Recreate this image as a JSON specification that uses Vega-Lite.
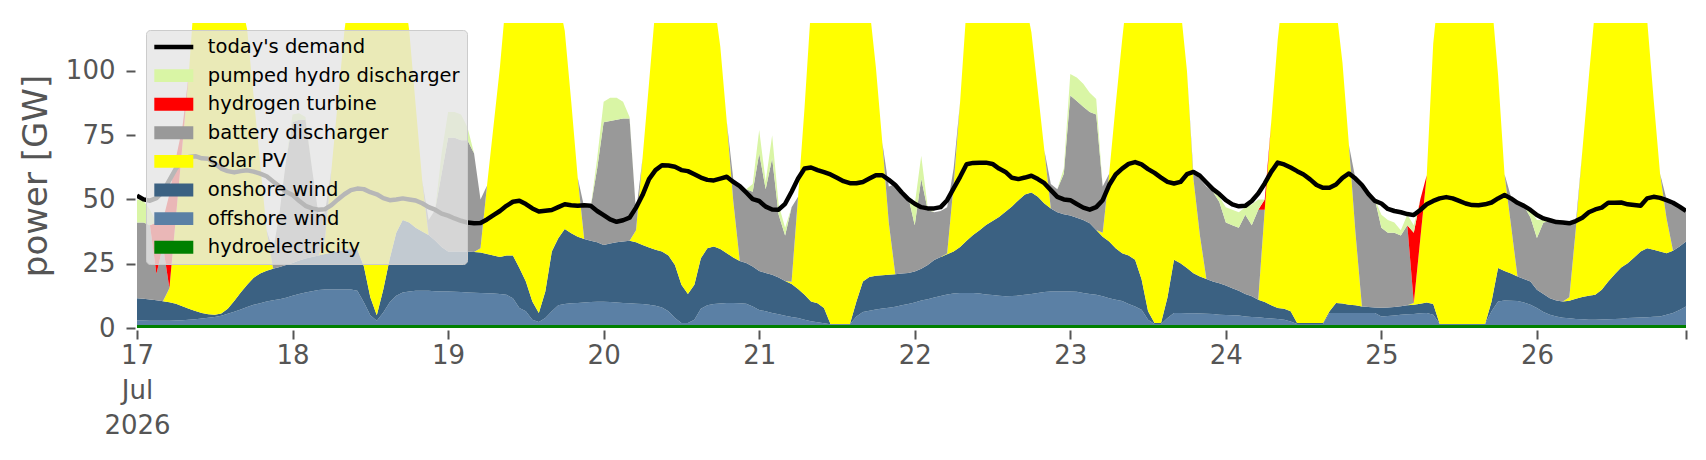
{
"$schema":"https://vega.github.io/schema/vega-lite/v6.json",
"width":1549,"height":305,
"autosize":{"type":"none"},
"padding":{"left":137,"top":23,"right":20,"bottom":132},
"background":"#ffffff",
"config":{"view":{"stroke":null},"font":"DejaVu Sans"},
"data":{"values":[
{"t":"2026-07-17T00:00","s1":1.2,"s2":1.7,"s3":8.7,"s4":0,"s5":29.4,"s6":0,"s7":9,"d":51.5},
{"t":"2026-07-17T01:00","s1":1.2,"s2":1.7,"s3":8.5,"s4":0,"s5":29.6,"s6":0,"s7":8.5,"d":50},
{"t":"2026-07-17T02:00","s1":1.2,"s2":1.6,"s3":8.3,"s4":0,"s5":28.9,"s6":0,"s7":6,"d":49.5},
{"t":"2026-07-17T03:00","s1":1.2,"s2":1.6,"s3":8,"s4":0,"s5":10.2,"s6":20,"s7":0,"d":50.5},
{"t":"2026-07-17T04:00","s1":1.2,"s2":1.6,"s3":7.6,"s4":0,"s5":21.6,"s6":10,"s7":0,"d":53},
{"t":"2026-07-17T05:00","s1":1.2,"s2":1.6,"s3":7.2,"s4":5.5,"s5":0,"s6":36.5,"s7":0,"d":57.5},
{"t":"2026-07-17T06:00","s1":1.2,"s2":1.7,"s3":6.5,"s4":33.6,"s5":0,"s6":23,"s7":0,"d":62},
{"t":"2026-07-17T07:00","s1":1.2,"s2":1.8,"s3":5.5,"s4":62.5,"s5":0,"s6":7,"s7":0,"d":65},
{"t":"2026-07-17T08:00","s1":1.2,"s2":2,"s3":4.3,"s4":91.5,"s5":0,"s6":0,"s7":0,"d":66.5},
{"t":"2026-07-17T09:00","s1":1.2,"s2":2.2,"s3":3.2,"s4":128.4,"s5":0,"s6":0,"s7":0,"d":66.8},
{"t":"2026-07-17T10:00","s1":1.2,"s2":2.5,"s3":2.1,"s4":144.2,"s5":0,"s6":0,"s7":0,"d":66},
{"t":"2026-07-17T11:00","s1":1.2,"s2":2.8,"s3":1.3,"s4":152.7,"s5":0,"s6":0,"s7":0,"d":65.8},
{"t":"2026-07-17T12:00","s1":1.2,"s2":3.1,"s3":0.9,"s4":154.8,"s5":0,"s6":0,"s7":0,"d":64},
{"t":"2026-07-17T13:00","s1":1.2,"s2":3.6,"s3":0.8,"s4":152.4,"s5":0,"s6":0,"s7":0,"d":62},
{"t":"2026-07-17T14:00","s1":1.2,"s2":4.3,"s3":2,"s4":142.5,"s5":0,"s6":0,"s7":0,"d":61},
{"t":"2026-07-17T15:00","s1":1.2,"s2":5.1,"s3":4.2,"s4":129.5,"s5":0,"s6":0,"s7":0,"d":60.5},
{"t":"2026-07-17T16:00","s1":1.2,"s2":6,"s3":6.6,"s4":114.2,"s5":0,"s6":0,"s7":0,"d":61},
{"t":"2026-07-17T17:00","s1":1.2,"s2":7,"s3":8.6,"s4":99.2,"s5":0,"s6":0,"s7":0,"d":61.3},
{"t":"2026-07-17T18:00","s1":1.2,"s2":7.8,"s3":10.5,"s4":70.5,"s5":0,"s6":0,"s7":0,"d":60.8},
{"t":"2026-07-17T19:00","s1":1.2,"s2":8.4,"s3":11.6,"s4":42.8,"s5":0,"s6":0,"s7":0,"d":60},
{"t":"2026-07-17T20:00","s1":1.2,"s2":9.1,"s3":12,"s4":15.7,"s5":0,"s6":0,"s7":0,"d":59},
{"t":"2026-07-17T21:00","s1":1.2,"s2":9.6,"s3":12.2,"s4":0,"s5":7,"s6":0,"s7":0,"d":57},
{"t":"2026-07-17T22:00","s1":1.2,"s2":10,"s3":12.5,"s4":0,"s5":21.3,"s6":0,"s7":0,"d":55},
{"t":"2026-07-17T23:00","s1":1.2,"s2":10.6,"s3":12.7,"s4":0,"s5":40.5,"s6":0,"s7":0,"d":53},
{"t":"2026-07-18T00:00","s1":1.2,"s2":11.3,"s3":12.8,"s4":0,"s5":54.7,"s6":0,"s7":3,"d":51.7},
{"t":"2026-07-18T01:00","s1":1.2,"s2":12,"s3":13,"s4":0,"s5":54.8,"s6":0,"s7":2.5,"d":49.5},
{"t":"2026-07-18T02:00","s1":1.2,"s2":12.6,"s3":13.2,"s4":0,"s5":54,"s6":0,"s7":1,"d":47.5},
{"t":"2026-07-18T03:00","s1":1.2,"s2":13.1,"s3":13.3,"s4":0,"s5":34.4,"s6":0,"s7":0,"d":46.5},
{"t":"2026-07-18T04:00","s1":1.2,"s2":13.6,"s3":13.4,"s4":0,"s5":15.8,"s6":0,"s7":0,"d":46},
{"t":"2026-07-18T05:00","s1":1.2,"s2":13.8,"s3":13.8,"s4":5.7,"s5":10.5,"s6":0,"s7":0,"d":46.2},
{"t":"2026-07-18T06:00","s1":1.2,"s2":13.8,"s3":14.3,"s4":32.2,"s5":0,"s6":0,"s7":0,"d":47.8},
{"t":"2026-07-18T07:00","s1":1.2,"s2":13.8,"s3":14.8,"s4":58.7,"s5":0,"s6":0,"s7":0,"d":50},
{"t":"2026-07-18T08:00","s1":1.2,"s2":13.8,"s3":15.3,"s4":85.2,"s5":0,"s6":0,"s7":0,"d":52},
{"t":"2026-07-18T09:00","s1":1.2,"s2":13.8,"s3":15.8,"s4":104.2,"s5":0,"s6":0,"s7":0,"d":53.6},
{"t":"2026-07-18T10:00","s1":1.2,"s2":13.3,"s3":16,"s4":117.5,"s5":0,"s6":0,"s7":0,"d":54.2},
{"t":"2026-07-18T11:00","s1":1.2,"s2":8.8,"s3":14,"s4":131,"s5":0,"s6":0,"s7":0,"d":54},
{"t":"2026-07-18T12:00","s1":1.2,"s2":3.8,"s3":7,"s4":146,"s5":0,"s6":0,"s7":0,"d":52.8},
{"t":"2026-07-18T13:00","s1":1.2,"s2":1.6,"s3":2.2,"s4":153,"s5":0,"s6":0,"s7":0,"d":52},
{"t":"2026-07-18T14:00","s1":1.2,"s2":4.8,"s3":9,"s4":140,"s5":0,"s6":0,"s7":0,"d":50.5},
{"t":"2026-07-18T15:00","s1":1.2,"s2":8.8,"s3":17,"s4":123,"s5":0,"s6":0,"s7":0,"d":49.7},
{"t":"2026-07-18T16:00","s1":1.2,"s2":11.3,"s3":24.5,"s4":108,"s5":0,"s6":0,"s7":0,"d":50},
{"t":"2026-07-18T17:00","s1":1.2,"s2":12.6,"s3":28.2,"s4":93,"s5":0,"s6":0,"s7":0,"d":50.4},
{"t":"2026-07-18T18:00","s1":1.2,"s2":13,"s3":26.8,"s4":74.7,"s5":0,"s6":0,"s7":0,"d":50},
{"t":"2026-07-18T19:00","s1":1.2,"s2":13.3,"s3":24.5,"s4":47.5,"s5":0,"s6":0,"s7":0,"d":49.6},
{"t":"2026-07-18T20:00","s1":1.2,"s2":13.3,"s3":23,"s4":20,"s5":0,"s6":0,"s7":0,"d":48.5},
{"t":"2026-07-18T21:00","s1":1.2,"s2":13.3,"s3":21.7,"s4":0,"s5":5.8,"s6":0,"s7":0,"d":47},
{"t":"2026-07-18T22:00","s1":1.2,"s2":13.1,"s3":19.7,"s4":0,"s5":12,"s6":0,"s7":0,"d":46},
{"t":"2026-07-18T23:00","s1":1.2,"s2":13,"s3":17.3,"s4":0,"s5":28.5,"s6":0,"s7":8,"d":44.5},
{"t":"2026-07-19T00:00","s1":1.2,"s2":13,"s3":15.5,"s4":0,"s5":44.3,"s6":0,"s7":10,"d":43.7},
{"t":"2026-07-19T01:00","s1":1.2,"s2":12.9,"s3":15.6,"s4":0,"s5":44.3,"s6":0,"s7":10,"d":42.6},
{"t":"2026-07-19T02:00","s1":1.2,"s2":12.8,"s3":15.7,"s4":0,"s5":43.3,"s6":0,"s7":10,"d":41.7},
{"t":"2026-07-19T03:00","s1":1.2,"s2":12.6,"s3":15.9,"s4":0,"s5":43.3,"s6":0,"s7":5,"d":41},
{"t":"2026-07-19T04:00","s1":1.2,"s2":12.5,"s3":15.9,"s4":0,"s5":38.4,"s6":0,"s7":0,"d":40.7},
{"t":"2026-07-19T05:00","s1":1.2,"s2":12.4,"s3":15.8,"s4":1.6,"s5":19,"s6":0,"s7":0,"d":40.8},
{"t":"2026-07-19T06:00","s1":1.2,"s2":12.3,"s3":15.3,"s4":26.5,"s5":0,"s6":0,"s7":0,"d":42.2},
{"t":"2026-07-19T07:00","s1":1.2,"s2":12.2,"s3":14.8,"s4":50.2,"s5":0,"s6":0,"s7":0,"d":43.9},
{"t":"2026-07-19T08:00","s1":1.2,"s2":12,"s3":14.4,"s4":73.9,"s5":0,"s6":0,"s7":0,"d":45.5},
{"t":"2026-07-19T09:00","s1":1.2,"s2":11.7,"s3":15.3,"s4":101.8,"s5":0,"s6":0,"s7":0,"d":47.5},
{"t":"2026-07-19T10:00","s1":1.2,"s2":10.4,"s3":16.6,"s4":116.8,"s5":0,"s6":0,"s7":0,"d":49.1},
{"t":"2026-07-19T11:00","s1":1.2,"s2":6.6,"s3":15.5,"s4":126.7,"s5":0,"s6":0,"s7":0,"d":49.5},
{"t":"2026-07-19T12:00","s1":1.2,"s2":5.3,"s3":11.6,"s4":136.9,"s5":0,"s6":0,"s7":0,"d":48.2},
{"t":"2026-07-19T13:00","s1":1.2,"s2":2,"s3":7.1,"s4":144.7,"s5":0,"s6":0,"s7":0,"d":46.5},
{"t":"2026-07-19T14:00","s1":1.2,"s2":1.1,"s3":3.5,"s4":144.2,"s5":0,"s6":0,"s7":0,"d":45.3},
{"t":"2026-07-19T15:00","s1":1.2,"s2":2.7,"s3":10.3,"s4":130.8,"s5":0,"s6":0,"s7":0,"d":45.6},
{"t":"2026-07-19T16:00","s1":1.2,"s2":5.3,"s3":23.2,"s4":110.3,"s5":0,"s6":0,"s7":0,"d":45.9},
{"t":"2026-07-19T17:00","s1":1.2,"s2":7.6,"s3":26.1,"s4":93.1,"s5":0,"s6":0,"s7":0,"d":47},
{"t":"2026-07-19T18:00","s1":1.2,"s2":8.1,"s3":29.2,"s4":77.1,"s5":0,"s6":0,"s7":0,"d":48.1},
{"t":"2026-07-19T19:00","s1":1.2,"s2":8.4,"s3":27.2,"s4":51.2,"s5":0,"s6":0,"s7":0,"d":47.7},
{"t":"2026-07-19T20:00","s1":1.2,"s2":8.5,"s3":25.8,"s4":22.9,"s5":0,"s6":0,"s7":0,"d":47.5},
{"t":"2026-07-19T21:00","s1":1.2,"s2":8.7,"s3":24.7,"s4":0,"s5":12.4,"s6":0,"s7":0,"d":47.7},
{"t":"2026-07-19T22:00","s1":1.2,"s2":8.9,"s3":23.8,"s4":0,"s5":13.1,"s6":0,"s7":0,"d":47.5},
{"t":"2026-07-19T23:00","s1":1.2,"s2":9,"s3":23.1,"s4":0,"s5":28.7,"s6":0,"s7":4,"d":45.5},
{"t":"2026-07-20T00:00","s1":1.2,"s2":9,"s3":22.1,"s4":0,"s5":47.7,"s6":0,"s7":8,"d":43.9},
{"t":"2026-07-20T01:00","s1":1.2,"s2":8.9,"s3":22.8,"s4":0,"s5":47.6,"s6":0,"s7":9,"d":42.2},
{"t":"2026-07-20T02:00","s1":1.2,"s2":8.7,"s3":23.4,"s4":0,"s5":47.7,"s6":0,"s7":8.5,"d":41.3},
{"t":"2026-07-20T03:00","s1":1.2,"s2":8.5,"s3":23.9,"s4":0,"s5":47.9,"s6":0,"s7":6.5,"d":41.9},
{"t":"2026-07-20T04:00","s1":1.2,"s2":8.4,"s3":24.3,"s4":0,"s5":47.6,"s6":0,"s7":0.5,"d":42.9},
{"t":"2026-07-20T05:00","s1":1.2,"s2":8.2,"s3":23.9,"s4":4.7,"s5":7,"s6":0,"s7":0,"d":46.8},
{"t":"2026-07-20T06:00","s1":1.2,"s2":8.1,"s3":23,"s4":33.7,"s5":0,"s6":0,"s7":0,"d":51.7},
{"t":"2026-07-20T07:00","s1":1.2,"s2":7.8,"s3":22.3,"s4":63.9,"s5":0,"s6":0,"s7":0,"d":57.9},
{"t":"2026-07-20T08:00","s1":1.2,"s2":7.5,"s3":21.7,"s4":94.6,"s5":0,"s6":0,"s7":0,"d":61.4},
{"t":"2026-07-20T09:00","s1":1.2,"s2":6.8,"s3":21.7,"s4":110.3,"s5":0,"s6":0,"s7":0,"d":63.3},
{"t":"2026-07-20T10:00","s1":1.2,"s2":5.3,"s3":21.7,"s4":121.8,"s5":0,"s6":0,"s7":0,"d":63.2},
{"t":"2026-07-20T11:00","s1":1.2,"s2":2.7,"s3":20.6,"s4":130.5,"s5":0,"s6":0,"s7":0,"d":62.7},
{"t":"2026-07-20T12:00","s1":1.2,"s2":0.7,"s3":14.9,"s4":138.2,"s5":0,"s6":0,"s7":0,"d":61.4},
{"t":"2026-07-20T13:00","s1":1.2,"s2":0.7,"s3":11.3,"s4":138.8,"s5":0,"s6":0,"s7":0,"d":61},
{"t":"2026-07-20T14:00","s1":1.2,"s2":2,"s3":13.6,"s4":133.2,"s5":0,"s6":0,"s7":0,"d":59.8},
{"t":"2026-07-20T15:00","s1":1.2,"s2":6.3,"s3":19.6,"s4":117.9,"s5":0,"s6":0,"s7":0,"d":58.5},
{"t":"2026-07-20T16:00","s1":1.2,"s2":7.6,"s3":22.2,"s4":107,"s5":0,"s6":0,"s7":0,"d":57.6},
{"t":"2026-07-20T17:00","s1":1.2,"s2":8.1,"s3":22.4,"s4":96.3,"s5":0,"s6":0,"s7":0,"d":57.4},
{"t":"2026-07-20T18:00","s1":1.2,"s2":8.3,"s3":21.2,"s4":78.7,"s5":0,"s6":0,"s7":0,"d":58.1},
{"t":"2026-07-20T19:00","s1":1.2,"s2":8.5,"s3":19.4,"s4":51.1,"s5":0,"s6":0,"s7":0,"d":58.8},
{"t":"2026-07-20T20:00","s1":1.2,"s2":8.5,"s3":17.7,"s4":22,"s5":8.6,"s6":0,"s7":0,"d":56.8},
{"t":"2026-07-20T21:00","s1":1.2,"s2":8.4,"s3":16.5,"s4":0,"s5":29.9,"s6":0,"s7":0,"d":55.2},
{"t":"2026-07-20T22:00","s1":1.2,"s2":8.2,"s3":15.9,"s4":0,"s5":28.7,"s6":0,"s7":0,"d":52.7},
{"t":"2026-07-20T23:00","s1":1.2,"s2":7.2,"s3":15.5,"s4":0,"s5":29.1,"s6":0,"s7":3,"d":50.1},
{"t":"2026-07-21T00:00","s1":1.2,"s2":5.8,"s3":15.2,"s4":0,"s5":45.8,"s6":0,"s7":9,"d":49.4},
{"t":"2026-07-21T01:00","s1":1.2,"s2":5.3,"s3":14.9,"s4":0,"s5":32.6,"s6":0,"s7":3,"d":47.2},
{"t":"2026-07-21T02:00","s1":1.2,"s2":4.6,"s3":14.9,"s4":0,"s5":45.3,"s6":0,"s7":9,"d":46.1},
{"t":"2026-07-21T03:00","s1":1.2,"s2":4.1,"s3":14.3,"s4":0,"s5":24.4,"s6":0,"s7":4,"d":46},
{"t":"2026-07-21T04:00","s1":1.2,"s2":3.6,"s3":13.5,"s4":0,"s5":17.7,"s6":0,"s7":3,"d":48.3},
{"t":"2026-07-21T05:00","s1":1.2,"s2":3.1,"s3":12.8,"s4":0.9,"s5":29,"s6":0,"s7":0,"d":53},
{"t":"2026-07-21T06:00","s1":1.2,"s2":2.7,"s3":11.3,"s4":35.8,"s5":0,"s6":0,"s7":0,"d":58.1},
{"t":"2026-07-21T07:00","s1":1.2,"s2":2,"s3":9.7,"s4":72.8,"s5":0,"s6":0,"s7":0,"d":62},
{"t":"2026-07-21T08:00","s1":1.2,"s2":1.4,"s3":7.7,"s4":114.7,"s5":0,"s6":0,"s7":0,"d":62.4},
{"t":"2026-07-21T09:00","s1":1.2,"s2":1,"s3":7.4,"s4":130.4,"s5":0,"s6":0,"s7":0,"d":61.4},
{"t":"2026-07-21T10:00","s1":1.2,"s2":0.6,"s3":6,"s4":142.2,"s5":0,"s6":0,"s7":0,"d":60.6},
{"t":"2026-07-21T11:00","s1":1.2,"s2":0.3,"s3":0.1,"s4":153.4,"s5":0,"s6":0,"s7":0,"d":59.7},
{"t":"2026-07-21T12:00","s1":1.2,"s2":0.3,"s3":0.1,"s4":156.4,"s5":0,"s6":0,"s7":0,"d":58.4},
{"t":"2026-07-21T13:00","s1":1.2,"s2":0.3,"s3":0.1,"s4":153.4,"s5":0,"s6":0,"s7":0,"d":57.1},
{"t":"2026-07-21T14:00","s1":1.2,"s2":0.3,"s3":0.1,"s4":148.4,"s5":0,"s6":0,"s7":0,"d":56.3},
{"t":"2026-07-21T15:00","s1":1.2,"s2":3.3,"s3":5.8,"s4":134.7,"s5":0,"s6":0,"s7":0,"d":56.3},
{"t":"2026-07-21T16:00","s1":1.2,"s2":5,"s3":11.9,"s4":119.9,"s5":0,"s6":0,"s7":0,"d":56.8},
{"t":"2026-07-21T17:00","s1":1.2,"s2":5.5,"s3":13.1,"s4":105.2,"s5":0,"s6":0,"s7":0,"d":58.1},
{"t":"2026-07-21T18:00","s1":1.2,"s2":6,"s3":13.1,"s4":81.2,"s5":0,"s6":0,"s7":0,"d":59.4},
{"t":"2026-07-21T19:00","s1":1.2,"s2":6.4,"s3":12.9,"s4":51.5,"s5":0,"s6":0,"s7":0,"d":59.4},
{"t":"2026-07-21T20:00","s1":1.2,"s2":6.7,"s3":12.8,"s4":20.1,"s5":14.2,"s6":0,"s7":0,"d":57.6},
{"t":"2026-07-21T21:00","s1":1.2,"s2":7.1,"s3":12.6,"s4":0,"s5":35.1,"s6":0,"s7":0,"d":55.6},
{"t":"2026-07-21T22:00","s1":1.2,"s2":7.6,"s3":12.4,"s4":0,"s5":32.3,"s6":0,"s7":0,"d":52.7},
{"t":"2026-07-21T23:00","s1":1.2,"s2":8.1,"s3":12.1,"s4":0,"s5":29.6,"s6":0,"s7":0,"d":50.1},
{"t":"2026-07-22T00:00","s1":1.2,"s2":8.7,"s3":12.1,"s4":0,"s5":18,"s6":0,"s7":8,"d":48.3},
{"t":"2026-07-22T01:00","s1":1.2,"s2":9.5,"s3":12.3,"s4":0,"s5":35,"s6":0,"s7":9,"d":47},
{"t":"2026-07-22T02:00","s1":1.2,"s2":10,"s3":13.3,"s4":0,"s5":21.5,"s6":0,"s7":1,"d":46.5},
{"t":"2026-07-22T03:00","s1":1.2,"s2":10.7,"s3":14.5,"s4":0,"s5":18.6,"s6":0,"s7":0,"d":46.5},
{"t":"2026-07-22T04:00","s1":1.2,"s2":11.2,"s3":15.2,"s4":0,"s5":17.9,"s6":0,"s7":0,"d":47},
{"t":"2026-07-22T05:00","s1":1.2,"s2":11.8,"s3":15.7,"s4":0.3,"s5":18,"s6":0,"s7":0,"d":49.7},
{"t":"2026-07-22T06:00","s1":1.2,"s2":12.2,"s3":16.3,"s4":25.9,"s5":6.4,"s6":0,"s7":0,"d":54.3},
{"t":"2026-07-22T07:00","s1":1.2,"s2":12.4,"s3":17.9,"s4":56.4,"s5":0,"s6":0,"s7":0,"d":58.8},
{"t":"2026-07-22T08:00","s1":1.2,"s2":12.4,"s3":20.3,"s4":91.1,"s5":0,"s6":0,"s7":0,"d":63.7},
{"t":"2026-07-22T09:00","s1":1.2,"s2":12.4,"s3":22.6,"s4":103.8,"s5":0,"s6":0,"s7":0,"d":64.2},
{"t":"2026-07-22T10:00","s1":1.2,"s2":12.2,"s3":24.6,"s4":112,"s5":0,"s6":0,"s7":0,"d":64.3},
{"t":"2026-07-22T11:00","s1":1.2,"s2":11.8,"s3":27.1,"s4":114.9,"s5":0,"s6":0,"s7":0,"d":64.3},
{"t":"2026-07-22T12:00","s1":1.2,"s2":11.6,"s3":28.8,"s4":116.4,"s5":0,"s6":0,"s7":0,"d":63.8},
{"t":"2026-07-22T13:00","s1":1.2,"s2":11.3,"s3":30.7,"s4":111.8,"s5":0,"s6":0,"s7":0,"d":62},
{"t":"2026-07-22T14:00","s1":1.2,"s2":11.1,"s3":32.9,"s4":104.8,"s5":0,"s6":0,"s7":0,"d":60.7},
{"t":"2026-07-22T15:00","s1":1.2,"s2":11.2,"s3":34.8,"s4":97.8,"s5":0,"s6":0,"s7":0,"d":58.4},
{"t":"2026-07-22T16:00","s1":1.2,"s2":11.4,"s3":37.1,"s4":88.3,"s5":0,"s6":0,"s7":0,"d":57.9},
{"t":"2026-07-22T17:00","s1":1.2,"s2":11.7,"s3":39,"s4":76.1,"s5":0,"s6":0,"s7":0,"d":58.5},
{"t":"2026-07-22T18:00","s1":1.2,"s2":12,"s3":39.5,"s4":62.3,"s5":0,"s6":0,"s7":0,"d":59.2},
{"t":"2026-07-22T19:00","s1":1.2,"s2":12.4,"s3":37.4,"s4":41,"s5":0,"s6":0,"s7":0,"d":57.9},
{"t":"2026-07-22T20:00","s1":1.2,"s2":12.8,"s3":34.4,"s4":20.6,"s5":0,"s6":0,"s7":0,"d":56.3},
{"t":"2026-07-22T21:00","s1":1.2,"s2":13,"s3":32.3,"s4":0,"s5":9.5,"s6":0,"s7":0,"d":53.6},
{"t":"2026-07-22T22:00","s1":1.2,"s2":13,"s3":30.8,"s4":0,"s5":9,"s6":0,"s7":0,"d":51},
{"t":"2026-07-22T23:00","s1":1.2,"s2":13,"s3":30,"s4":0,"s5":15.8,"s6":0,"s7":2,"d":50},
{"t":"2026-07-23T00:00","s1":1.2,"s2":13,"s3":29.5,"s4":0,"s5":46.7,"s6":0,"s7":8.4,"d":49.7},
{"t":"2026-07-23T01:00","s1":1.2,"s2":12.9,"s3":28.8,"s4":0,"s5":45.4,"s6":0,"s7":9.1,"d":48.2},
{"t":"2026-07-23T02:00","s1":1.2,"s2":12.4,"s3":28.4,"s4":0,"s5":44,"s6":0,"s7":9,"d":46.8},
{"t":"2026-07-23T03:00","s1":1.2,"s2":12,"s3":27.5,"s4":0,"s5":43.3,"s6":0,"s7":7.5,"d":46},
{"t":"2026-07-23T04:00","s1":1.2,"s2":11.7,"s3":25.2,"s4":0,"s5":44.9,"s6":0,"s7":6,"d":47},
{"t":"2026-07-23T05:00","s1":1.2,"s2":11.1,"s3":23.2,"s4":1.5,"s5":18,"s6":0,"s7":0,"d":49.7},
{"t":"2026-07-23T06:00","s1":1.2,"s2":10.4,"s3":22,"s4":26.4,"s5":0,"s6":0,"s7":0,"d":55.6},
{"t":"2026-07-23T07:00","s1":1.2,"s2":9.8,"s3":20,"s4":55.7,"s5":0,"s6":0,"s7":0,"d":59.7},
{"t":"2026-07-23T08:00","s1":1.2,"s2":9.3,"s3":18.6,"s4":82.9,"s5":0,"s6":0,"s7":0,"d":62},
{"t":"2026-07-23T09:00","s1":1.2,"s2":8.1,"s3":18.9,"s4":106.8,"s5":0,"s6":0,"s7":0,"d":63.8},
{"t":"2026-07-23T10:00","s1":1.2,"s2":7.2,"s3":18.1,"s4":121.5,"s5":0,"s6":0,"s7":0,"d":64.5},
{"t":"2026-07-23T11:00","s1":1.2,"s2":5.9,"s3":11.9,"s4":136,"s5":0,"s6":0,"s7":0,"d":63.6},
{"t":"2026-07-23T12:00","s1":1.2,"s2":2,"s3":3.3,"s4":151.5,"s5":0,"s6":0,"s7":0,"d":61.8},
{"t":"2026-07-23T13:00","s1":1.2,"s2":0.4,"s3":0.3,"s4":156.1,"s5":0,"s6":0,"s7":0,"d":60.3},
{"t":"2026-07-23T14:00","s1":1.2,"s2":0.4,"s3":0.3,"s4":153.1,"s5":0,"s6":0,"s7":0,"d":58.5},
{"t":"2026-07-23T15:00","s1":1.2,"s2":2.7,"s3":8.1,"s4":138,"s5":0,"s6":0,"s7":0,"d":56.8},
{"t":"2026-07-23T16:00","s1":1.2,"s2":4.6,"s3":20.7,"s4":113.5,"s5":0,"s6":0,"s7":0,"d":56.2},
{"t":"2026-07-23T17:00","s1":1.2,"s2":4.6,"s3":19.4,"s4":99.8,"s5":0,"s6":0,"s7":0,"d":56.8},
{"t":"2026-07-23T18:00","s1":1.2,"s2":4.5,"s3":17.6,"s4":76.7,"s5":0,"s6":0,"s7":0,"d":59.8},
{"t":"2026-07-23T19:00","s1":1.2,"s2":4.5,"s3":15.6,"s4":36.7,"s5":2,"s6":0,"s7":0,"d":60.7},
{"t":"2026-07-23T20:00","s1":1.2,"s2":4.4,"s3":14.4,"s4":16,"s5":22,"s6":0,"s7":0,"d":59.2},
{"t":"2026-07-23T21:00","s1":1.2,"s2":4.3,"s3":13.6,"s4":0,"s5":35.9,"s6":0,"s7":0,"d":56.6},
{"t":"2026-07-23T22:00","s1":1.2,"s2":4.2,"s3":12.7,"s4":0,"s5":34.9,"s6":0,"s7":0,"d":54},
{"t":"2026-07-23T23:00","s1":1.2,"s2":4,"s3":12.2,"s4":0,"s5":31.6,"s6":0,"s7":2,"d":52.1},
{"t":"2026-07-24T00:00","s1":1.2,"s2":3.9,"s3":11.4,"s4":0,"s5":24.5,"s6":0,"s7":6,"d":49.7},
{"t":"2026-07-24T01:00","s1":1.2,"s2":3.8,"s3":10.5,"s4":0,"s5":24.5,"s6":0,"s7":6,"d":48.1},
{"t":"2026-07-24T02:00","s1":1.2,"s2":3.7,"s3":9.6,"s4":0,"s5":24.5,"s6":0,"s7":6,"d":47.3},
{"t":"2026-07-24T03:00","s1":1.2,"s2":3.3,"s3":8.7,"s4":0,"s5":30.8,"s6":0,"s7":3,"d":47.5},
{"t":"2026-07-24T04:00","s1":1.2,"s2":3.1,"s3":8,"s4":0,"s5":27.7,"s6":0,"s7":8,"d":49.4},
{"t":"2026-07-24T05:00","s1":1.2,"s2":3,"s3":6.8,"s4":0,"s5":35,"s6":0,"s7":4,"d":52.3},
{"t":"2026-07-24T06:00","s1":1.2,"s2":2.7,"s3":6.2,"s4":35.9,"s5":0,"s6":4,"s7":0,"d":56.2},
{"t":"2026-07-24T07:00","s1":1.2,"s2":2.5,"s3":5.1,"s4":71.2,"s5":0,"s6":0,"s7":0,"d":60.7},
{"t":"2026-07-24T08:00","s1":1.2,"s2":2.3,"s3":4.3,"s4":104.2,"s5":0,"s6":0,"s7":0,"d":64.3},
{"t":"2026-07-24T09:00","s1":1.2,"s2":2,"s3":4.3,"s4":127.5,"s5":0,"s6":0,"s7":0,"d":63.6},
{"t":"2026-07-24T10:00","s1":1.2,"s2":1.3,"s3":4,"s4":141.5,"s5":0,"s6":0,"s7":0,"d":62.4},
{"t":"2026-07-24T11:00","s1":1.2,"s2":0.4,"s3":0.3,"s4":153.1,"s5":0,"s6":0,"s7":0,"d":61},
{"t":"2026-07-24T12:00","s1":1.2,"s2":0.4,"s3":0.3,"s4":156.1,"s5":0,"s6":0,"s7":0,"d":59.7},
{"t":"2026-07-24T13:00","s1":1.2,"s2":0.4,"s3":0.3,"s4":156.1,"s5":0,"s6":0,"s7":0,"d":57.8},
{"t":"2026-07-24T14:00","s1":1.2,"s2":0.4,"s3":0.3,"s4":153.1,"s5":0,"s6":0,"s7":0,"d":55.6},
{"t":"2026-07-24T15:00","s1":1.2,"s2":0.4,"s3":0.3,"s4":148.1,"s5":0,"s6":0,"s7":0,"d":54.5},
{"t":"2026-07-24T16:00","s1":1.2,"s2":4.6,"s3":0.7,"s4":133.5,"s5":0,"s6":0,"s7":0,"d":54.5},
{"t":"2026-07-24T17:00","s1":1.2,"s2":4.6,"s3":3.9,"s4":115.3,"s5":0,"s6":0,"s7":0,"d":55.8},
{"t":"2026-07-24T18:00","s1":1.2,"s2":4.6,"s3":3.7,"s4":93.5,"s5":0,"s6":0,"s7":0,"d":58.4},
{"t":"2026-07-24T19:00","s1":1.2,"s2":4.6,"s3":3.2,"s4":62,"s5":0,"s6":0,"s7":0,"d":60.1},
{"t":"2026-07-24T20:00","s1":1.2,"s2":4.6,"s3":3,"s4":28.2,"s5":21,"s6":0,"s7":0,"d":58.1},
{"t":"2026-07-24T21:00","s1":1.2,"s2":4.6,"s3":2.6,"s4":0,"s5":47.6,"s6":0,"s7":0,"d":55.6},
{"t":"2026-07-24T22:00","s1":1.2,"s2":4.6,"s3":2.4,"s4":0,"s5":44.8,"s6":0,"s7":0,"d":52.1},
{"t":"2026-07-24T23:00","s1":1.2,"s2":4.6,"s3":2.2,"s4":0,"s5":42,"s6":0,"s7":0,"d":49.4},
{"t":"2026-07-25T00:00","s1":1.2,"s2":3.3,"s3":3.4,"s4":0,"s5":31.1,"s6":0,"s7":5,"d":48.4},
{"t":"2026-07-25T01:00","s1":1.2,"s2":3.5,"s3":3.3,"s4":0,"s5":29,"s6":0,"s7":5,"d":46.3},
{"t":"2026-07-25T02:00","s1":1.2,"s2":3.7,"s3":3.3,"s4":0,"s5":28.8,"s6":0,"s7":4,"d":45.5},
{"t":"2026-07-25T03:00","s1":1.2,"s2":4,"s3":3.3,"s4":0,"s5":27.5,"s6":0,"s7":2,"d":45},
{"t":"2026-07-25T04:00","s1":1.2,"s2":4.1,"s3":3.5,"s4":0,"s5":31.2,"s6":0,"s7":4,"d":44.3},
{"t":"2026-07-25T05:00","s1":1.2,"s2":4.2,"s3":3.6,"s4":0.7,"s5":0,"s6":27.3,"s7":3,"d":43.9},
{"t":"2026-07-25T06:00","s1":1.2,"s2":4.5,"s3":3.7,"s4":25.2,"s5":0,"s6":15.4,"s7":0,"d":45.9},
{"t":"2026-07-25T07:00","s1":1.2,"s2":4.6,"s3":4.1,"s4":49.5,"s5":0,"s6":0,"s7":0,"d":48.1},
{"t":"2026-07-25T08:00","s1":1.2,"s2":4,"s3":4.1,"s4":101.3,"s5":0,"s6":0,"s7":0,"d":49.4},
{"t":"2026-07-25T09:00","s1":1.2,"s2":0.4,"s3":0,"s4":133.4,"s5":0,"s6":0,"s7":0,"d":50.4},
{"t":"2026-07-25T10:00","s1":1.2,"s2":0.4,"s3":0,"s4":146.4,"s5":0,"s6":0,"s7":0,"d":50.9},
{"t":"2026-07-25T11:00","s1":1.2,"s2":0.4,"s3":0,"s4":153.4,"s5":0,"s6":0,"s7":0,"d":50.4},
{"t":"2026-07-25T12:00","s1":1.2,"s2":0.4,"s3":0,"s4":156.4,"s5":0,"s6":0,"s7":0,"d":49.4},
{"t":"2026-07-25T13:00","s1":1.2,"s2":0.4,"s3":0,"s4":156.4,"s5":0,"s6":0,"s7":0,"d":48.4},
{"t":"2026-07-25T14:00","s1":1.2,"s2":0.4,"s3":0,"s4":153.4,"s5":0,"s6":0,"s7":0,"d":47.8},
{"t":"2026-07-25T15:00","s1":1.2,"s2":0.4,"s3":0,"s4":148.4,"s5":0,"s6":0,"s7":0,"d":47.7},
{"t":"2026-07-25T16:00","s1":1.2,"s2":0.4,"s3":0,"s4":138.4,"s5":0,"s6":0,"s7":0,"d":48.1},
{"t":"2026-07-25T17:00","s1":1.2,"s2":5.3,"s3":3.8,"s4":117.7,"s5":0,"s6":0,"s7":0,"d":48.8},
{"t":"2026-07-25T18:00","s1":1.2,"s2":9.1,"s3":13,"s4":75.2,"s5":0,"s6":0,"s7":0,"d":50.4},
{"t":"2026-07-25T19:00","s1":1.2,"s2":9.5,"s3":11.5,"s4":37.6,"s5":0,"s6":0,"s7":0,"d":51.7},
{"t":"2026-07-25T20:00","s1":1.2,"s2":9.4,"s3":10.6,"s4":18.8,"s5":11,"s6":0,"s7":0,"d":50.4},
{"t":"2026-07-25T21:00","s1":1.2,"s2":9.3,"s3":9.5,"s4":0,"s5":29,"s6":0,"s7":0,"d":48.7},
{"t":"2026-07-25T22:00","s1":1.2,"s2":8.7,"s3":9.2,"s4":0,"s5":28.4,"s6":0,"s7":0,"d":47.5},
{"t":"2026-07-25T23:00","s1":1.2,"s2":7.8,"s3":9.1,"s4":0,"s5":24.9,"s6":0,"s7":3,"d":45.9},
{"t":"2026-07-26T00:00","s1":1.2,"s2":6.6,"s3":7.1,"s4":0,"s5":20.1,"s6":0,"s7":7,"d":43.9},
{"t":"2026-07-26T01:00","s1":1.2,"s2":5,"s3":7,"s4":0,"s5":27.8,"s6":0,"s7":1,"d":42.6},
{"t":"2026-07-26T02:00","s1":1.2,"s2":4,"s3":6.4,"s4":0,"s5":29.9,"s6":0,"s7":0,"d":41.9},
{"t":"2026-07-26T03:00","s1":1.2,"s2":3.3,"s3":6.2,"s4":0,"s5":30.3,"s6":0,"s7":0,"d":41.2},
{"t":"2026-07-26T04:00","s1":1.2,"s2":2.8,"s3":6.3,"s4":0,"s5":30.2,"s6":0,"s7":0,"d":41},
{"t":"2026-07-26T05:00","s1":1.2,"s2":2.6,"s3":6.8,"s4":1.4,"s5":28,"s6":0,"s7":0,"d":40.7},
{"t":"2026-07-26T06:00","s1":1.2,"s2":2.3,"s3":7.9,"s4":27.2,"s5":2.4,"s6":0,"s7":0,"d":41.6},
{"t":"2026-07-26T07:00","s1":1.2,"s2":2.2,"s3":8.7,"s4":56.6,"s5":0,"s6":0,"s7":0,"d":42.9},
{"t":"2026-07-26T08:00","s1":1.2,"s2":2,"s3":9.3,"s4":84.9,"s5":0,"s6":0,"s7":0,"d":45},
{"t":"2026-07-26T09:00","s1":1.2,"s2":2,"s3":9.7,"s4":112.1,"s5":0,"s6":0,"s7":0,"d":46.1},
{"t":"2026-07-26T10:00","s1":1.2,"s2":2.1,"s3":11.6,"s4":125.1,"s5":0,"s6":0,"s7":0,"d":46.8},
{"t":"2026-07-26T11:00","s1":1.2,"s2":2.2,"s3":14.7,"s4":131.9,"s5":0,"s6":0,"s7":0,"d":48.7},
{"t":"2026-07-26T12:00","s1":1.2,"s2":2.3,"s3":17.4,"s4":134.1,"s5":0,"s6":0,"s7":0,"d":48.7},
{"t":"2026-07-26T13:00","s1":1.2,"s2":2.4,"s3":19.9,"s4":131.5,"s5":0,"s6":0,"s7":0,"d":48.8},
{"t":"2026-07-26T14:00","s1":1.2,"s2":2.7,"s3":21.3,"s4":124.8,"s5":0,"s6":0,"s7":0,"d":48.1},
{"t":"2026-07-26T15:00","s1":1.2,"s2":2.8,"s3":23.4,"s4":117.6,"s5":0,"s6":0,"s7":0,"d":47.8},
{"t":"2026-07-26T16:00","s1":1.2,"s2":2.9,"s3":25.6,"s4":105.3,"s5":0,"s6":0,"s7":0,"d":47.5},
{"t":"2026-07-26T17:00","s1":1.2,"s2":3,"s3":26.8,"s4":89,"s5":0,"s6":0,"s7":0,"d":50.4},
{"t":"2026-07-26T18:00","s1":1.2,"s2":3.2,"s3":26,"s4":58.6,"s5":0,"s6":0,"s7":0,"d":51},
{"t":"2026-07-26T19:00","s1":1.2,"s2":3.3,"s3":25.2,"s4":30.3,"s5":0,"s6":0,"s7":0,"d":50.6},
{"t":"2026-07-26T20:00","s1":1.2,"s2":4,"s3":23.9,"s4":13.5,"s5":7.4,"s6":0,"s7":0,"d":49.7},
{"t":"2026-07-26T21:00","s1":1.2,"s2":4.6,"s3":24.2,"s4":0,"s5":19,"s6":0,"s7":0,"d":48.7},
{"t":"2026-07-26T22:00","s1":1.2,"s2":5.8,"s3":24.7,"s4":0,"s5":15.8,"s6":0,"s7":0,"d":47.2},
{"t":"2026-07-26T23:00","s1":1.2,"s2":7.2,"s3":25.2,"s4":0,"s5":11.9,"s6":0,"s7":0,"d":45.5}
]},
"layer":[
{"transform":[{"fold":["s1","s2","s3","s4","s5","s6","s7"],"as":["k","v"]}],
 "mark":{"type":"area","clip":true},
 "encoding":{
  "x":{"field":"t","type":"temporal","title":null,
   "scale":{"domain":[{"year":2026,"month":7,"date":17,"hours":0},{"year":2026,"month":7,"date":26,"hours":23}]},
   "axis":{"values":[{"year":2026,"month":7,"date":17},{"year":2026,"month":7,"date":18},{"year":2026,"month":7,"date":19},{"year":2026,"month":7,"date":20},{"year":2026,"month":7,"date":21},{"year":2026,"month":7,"date":22},{"year":2026,"month":7,"date":23},{"year":2026,"month":7,"date":24},{"year":2026,"month":7,"date":25},{"year":2026,"month":7,"date":26},{"year":2026,"month":7,"date":26,"hours":23}],
    "labelExpr":"hours(datum.value) != 0 ? '' : (date(datum.value) == 17 ? ['17','Jul','2026'] : '' + date(datum.value))",
    "labelFont":"DejaVu Sans","labelFontSize":26,"labelColor":"#555555","labelPadding":3,"labelLineHeight":35,
    "labelFlush":false,"labelOverlap":false,"tickColor":"#555555","tickWidth":2,"tickSize":9,
    "domain":false,"grid":false,"offset":2}},
  "y":{"field":"v","type":"quantitative","stack":"zero","title":"power [GW]",
   "scale":{"domain":[0,118.6],"nice":false},
   "axis":{"values":[0,25,50,75,100],"labelFont":"DejaVu Sans","labelFontSize":26,"labelColor":"#555555","labelPadding":11,
    "tickColor":"#555555","tickWidth":2,"tickSize":9,"domain":false,"grid":false,"offset":2,
    "titleFont":"DejaVu Sans","titleFontSize":34,"titleColor":"#555555","titleFontWeight":"normal","titlePadding":12}},
  "color":{"field":"k","type":"nominal",
   "scale":{"domain":["dm","s7","s6","s5","s4","s3","s2","s1"],"range":["#000000","#d9f5a5","#ff0000","#999999","#ffff00","#3b6182","#5b80a5","#008000"]},
   "legend":{"orient":"none","legendX":9,"legendY":7,"title":null,"direction":"vertical",
    "labelExpr":"datum.value == 'dm' ? \"today's demand\" : datum.value == 's7' ? 'pumped hydro discharger' : datum.value == 's6' ? 'hydrogen turbine' : datum.value == 's5' ? 'battery discharger' : datum.value == 's4' ? 'solar PV' : datum.value == 's3' ? 'onshore wind' : datum.value == 's2' ? 'offshore wind' : 'hydroelectricity'",
    "labelFont":"DejaVu Sans","labelFontSize":19.5,"labelColor":"#000000","labelLimit":500,
    "symbolSize":380,"symbolStrokeWidth":0,"symbolOffset":10.8,"labelOffset":24,"rowPadding":8.6,"padding":7,
    "fillColor":"rgba(229,229,229,0.8)","strokeColor":"#cccccc","cornerRadius":4,
    "encode":{"symbols":{"update":{
      "shape":{"signal":"datum.value == 'dm' ? 'M-2,-0.24H2V0.24H-2Z' : 'M-2,-0.66H2V0.66H-2Z'"},
      "fill":{"scale":"color","field":"value"},
      "stroke":{"value":"transparent"},
      "opacity":{"value":1},"fillOpacity":{"value":1}}}}}},
  "order":{"field":"k","sort":"ascending"}
 }},
{"mark":{"type":"line","strokeWidth":4.5,"clip":true,"strokeJoin":"round"},
 "encoding":{
  "x":{"field":"t","type":"temporal","title":null},
  "y":{"field":"d","type":"quantitative","title":"power [GW]"},
  "color":{"datum":"dm"}
 }}
]
}
